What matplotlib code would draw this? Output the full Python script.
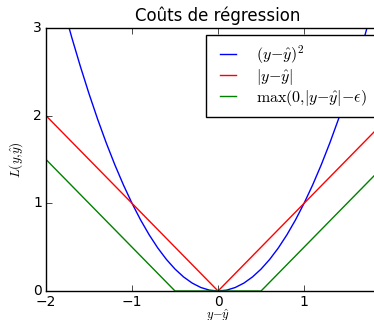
import matplotlib
matplotlib.use("Agg")
import matplotlib.pyplot as plt

plt.style.use("classic")
plt.rcParams["mathtext.fontset"] = "cm"

# carré
x_sq = [-1.8, -1.7, -1.6, -1.5, -1.4, -1.3, -1.2, -1.1, -1.0, -0.9, -0.8, -0.7, -0.6,
        -0.5, -0.4, -0.3, -0.2, -0.1, 0.0, 0.1, 0.2, 0.3, 0.4, 0.5, 0.6, 0.7, 0.8,
        0.9, 1.0, 1.1, 1.2, 1.3, 1.4, 1.5, 1.6, 1.7, 1.8]
y_sq = [3.24, 2.89, 2.56, 2.25, 1.96, 1.69, 1.44, 1.21, 1.0, 0.81, 0.64, 0.49, 0.36,
        0.25, 0.16, 0.09, 0.04, 0.01, 0.0, 0.01, 0.04, 0.09, 0.16, 0.25, 0.36, 0.49, 0.64,
        0.81, 1.0, 1.21, 1.44, 1.69, 1.96, 2.25, 2.56, 2.89, 3.24]
# valeur absolue
x_abs = [-2, 0, 2]
y_abs = [2, 0, 2]
# epsilon-insensible (eps = 0.5)
x_eps = [-2, -0.5, 0.5, 2]
y_eps = [1.5, 0, 0, 1.5]

fig = plt.figure(figsize=(3.74, 3.2), dpi=100)
ax = fig.add_axes([0.123, 0.0906, 0.92, 0.822])

ax.plot(x_sq, y_sq, "b-", lw=1, label=r"$(y{-}\hat{y})^2$")
ax.plot(x_abs, y_abs, "r-", lw=1, label=r"$|y{-}\hat{y}|$")
ax.plot(x_eps, y_eps, "g-", lw=1, label=r"$\max(0{,}|y{-}\hat{y}|{-}\epsilon)$")

ax.set_xlim(-2, 2)
ax.set_ylim(0, 3)
ax.set_xticks([-2, -1, 0, 1, 2])
ax.set_yticks([0, 1, 2, 3])
ax.tick_params(labelsize=10, pad=3)
ax.set_title("Coûts de régression", fontsize=12)
ax.set_xlabel(r"$y{-}\hat{y}$", fontsize=9, labelpad=-1)
ax.set_ylabel(r"$L(y{,}\hat{y})$", fontsize=9.5, labelpad=6)
ax.legend(loc="upper left", bbox_to_anchor=(0.465, 0.973), borderaxespad=0,
          fontsize=11.5, handlelength=1.6, handletextpad=0.95,
          labelspacing=0.05, borderpad=0.55)

fig.savefig("out.png", dpi=100)
